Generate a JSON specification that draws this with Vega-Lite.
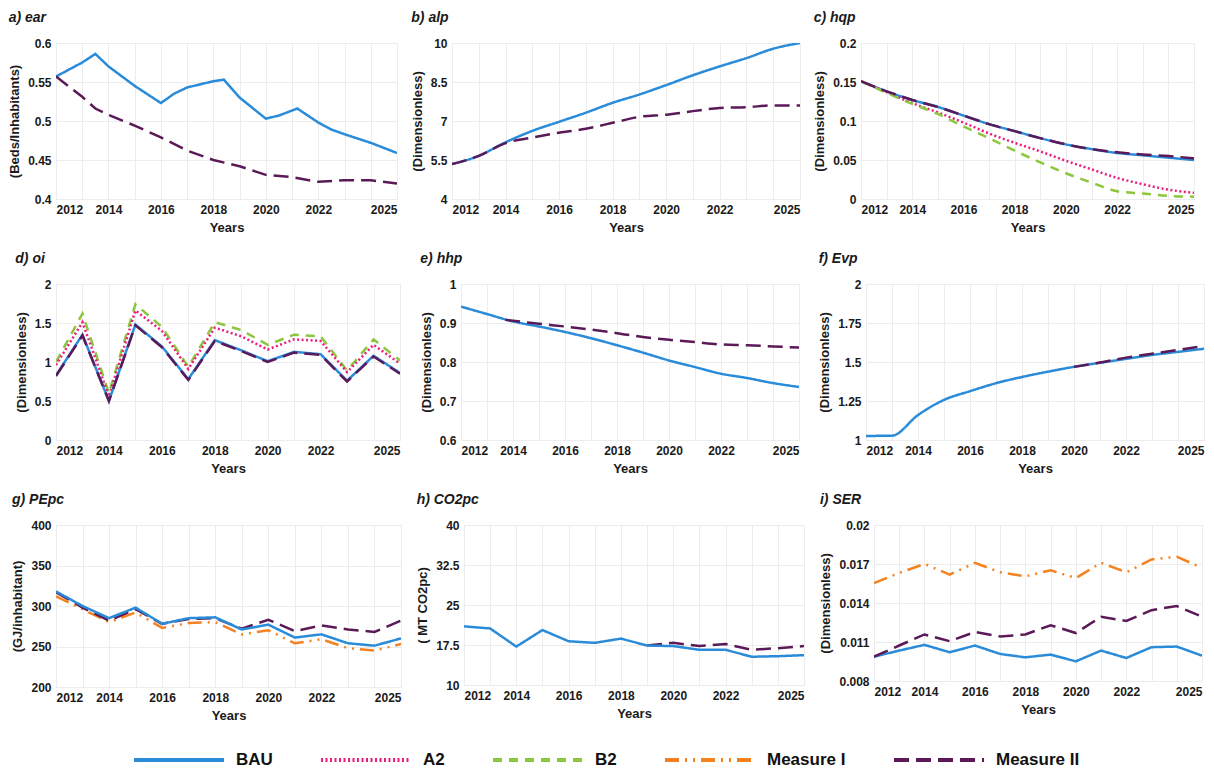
{
  "$schema": "https://vega.github.io/schema/vega-lite/v6.json",
  "padding": {"left": 8, "top": 10, "right": 4, "bottom": 4},
  "background": "white",
  "datasets": {
    "d": [
      {"p":"a","s":"BAU","x":2012,"v":0.557},{"p":"a","s":"BAU","x":2013,"v":0.575},{"p":"a","s":"BAU","x":2013.5,"v":0.586},{"p":"a","s":"BAU","x":2014,"v":0.570},{"p":"a","s":"BAU","x":2015,"v":0.545},{"p":"a","s":"BAU","x":2016,"v":0.523},{"p":"a","s":"BAU","x":2016.5,"v":0.535},{"p":"a","s":"BAU","x":2017,"v":0.543},{"p":"a","s":"BAU","x":2018,"v":0.551},{"p":"a","s":"BAU","x":2018.4,"v":0.553},{"p":"a","s":"BAU","x":2019,"v":0.530},{"p":"a","s":"BAU","x":2020,"v":0.503},{"p":"a","s":"BAU","x":2020.5,"v":0.507},{"p":"a","s":"BAU","x":2021.2,"v":0.516},{"p":"a","s":"BAU","x":2022,"v":0.498},{"p":"a","s":"BAU","x":2022.5,"v":0.489},{"p":"a","s":"BAU","x":2023,"v":0.483},{"p":"a","s":"BAU","x":2024,"v":0.472},{"p":"a","s":"BAU","x":2025,"v":0.459},
      {"p":"a","s":"Measure II","x":2012,"v":0.557},{"p":"a","s":"Measure II","x":2013,"v":0.531},{"p":"a","s":"Measure II","x":2013.5,"v":0.516},{"p":"a","s":"Measure II","x":2014,"v":0.508},{"p":"a","s":"Measure II","x":2015,"v":0.494},{"p":"a","s":"Measure II","x":2016,"v":0.479},{"p":"a","s":"Measure II","x":2017,"v":0.462},{"p":"a","s":"Measure II","x":2018,"v":0.450},{"p":"a","s":"Measure II","x":2019,"v":0.442},{"p":"a","s":"Measure II","x":2020,"v":0.431},{"p":"a","s":"Measure II","x":2021,"v":0.428},{"p":"a","s":"Measure II","x":2022,"v":0.422},{"p":"a","s":"Measure II","x":2023,"v":0.424},{"p":"a","s":"Measure II","x":2024,"v":0.424},{"p":"a","s":"Measure II","x":2025,"v":0.420},

      {"p":"b","s":"BAU","x":2012,"v":5.34},{"p":"b","s":"BAU","x":2013,"v":5.66},{"p":"b","s":"BAU","x":2014,"v":6.18},{"p":"b","s":"BAU","x":2015,"v":6.62},{"p":"b","s":"BAU","x":2016,"v":6.97},{"p":"b","s":"BAU","x":2017,"v":7.32},{"p":"b","s":"BAU","x":2018,"v":7.7},{"p":"b","s":"BAU","x":2019,"v":8.02},{"p":"b","s":"BAU","x":2020,"v":8.38},{"p":"b","s":"BAU","x":2021,"v":8.76},{"p":"b","s":"BAU","x":2022,"v":9.1},{"p":"b","s":"BAU","x":2023,"v":9.42},{"p":"b","s":"BAU","x":2024,"v":9.78},{"p":"b","s":"BAU","x":2025,"v":10.0},
      {"p":"b","s":"Measure II","x":2012,"v":5.34},{"p":"b","s":"Measure II","x":2013,"v":5.66},{"p":"b","s":"Measure II","x":2014,"v":6.15},{"p":"b","s":"Measure II","x":2015,"v":6.36},{"p":"b","s":"Measure II","x":2016,"v":6.55},{"p":"b","s":"Measure II","x":2017,"v":6.7},{"p":"b","s":"Measure II","x":2018,"v":6.93},{"p":"b","s":"Measure II","x":2019,"v":7.16},{"p":"b","s":"Measure II","x":2020,"v":7.24},{"p":"b","s":"Measure II","x":2021,"v":7.38},{"p":"b","s":"Measure II","x":2022,"v":7.5},{"p":"b","s":"Measure II","x":2023,"v":7.53},{"p":"b","s":"Measure II","x":2024,"v":7.6},{"p":"b","s":"Measure II","x":2025,"v":7.6},

      {"p":"c","s":"BAU","x":2012,"v":0.151},{"p":"c","s":"BAU","x":2013,"v":0.138},{"p":"c","s":"BAU","x":2014,"v":0.127},{"p":"c","s":"BAU","x":2015,"v":0.118},{"p":"c","s":"BAU","x":2016,"v":0.107},{"p":"c","s":"BAU","x":2017,"v":0.096},{"p":"c","s":"BAU","x":2018,"v":0.087},{"p":"c","s":"BAU","x":2019,"v":0.078},{"p":"c","s":"BAU","x":2020,"v":0.070},{"p":"c","s":"BAU","x":2021,"v":0.064},{"p":"c","s":"BAU","x":2022,"v":0.059},{"p":"c","s":"BAU","x":2023,"v":0.056},{"p":"c","s":"BAU","x":2024,"v":0.053},{"p":"c","s":"BAU","x":2025,"v":0.050},
      {"p":"c","s":"A2","x":2012,"v":0.151},{"p":"c","s":"A2","x":2013,"v":0.137},{"p":"c","s":"A2","x":2014,"v":0.123},{"p":"c","s":"A2","x":2015,"v":0.111},{"p":"c","s":"A2","x":2016,"v":0.098},{"p":"c","s":"A2","x":2017,"v":0.084},{"p":"c","s":"A2","x":2018,"v":0.072},{"p":"c","s":"A2","x":2019,"v":0.061},{"p":"c","s":"A2","x":2020,"v":0.049},{"p":"c","s":"A2","x":2021,"v":0.038},{"p":"c","s":"A2","x":2022,"v":0.027},{"p":"c","s":"A2","x":2023,"v":0.019},{"p":"c","s":"A2","x":2024,"v":0.012},{"p":"c","s":"A2","x":2025,"v":0.008},
      {"p":"c","s":"B2","x":2012,"v":0.151},{"p":"c","s":"B2","x":2013,"v":0.136},{"p":"c","s":"B2","x":2014,"v":0.122},{"p":"c","s":"B2","x":2015,"v":0.109},{"p":"c","s":"B2","x":2016,"v":0.093},{"p":"c","s":"B2","x":2017,"v":0.078},{"p":"c","s":"B2","x":2018,"v":0.062},{"p":"c","s":"B2","x":2019,"v":0.047},{"p":"c","s":"B2","x":2020,"v":0.033},{"p":"c","s":"B2","x":2021,"v":0.021},{"p":"c","s":"B2","x":2022,"v":0.010},{"p":"c","s":"B2","x":2023,"v":0.007},{"p":"c","s":"B2","x":2024,"v":0.004},{"p":"c","s":"B2","x":2025,"v":0.003},
      {"p":"c","s":"Measure II","x":2012,"v":0.151},{"p":"c","s":"Measure II","x":2013,"v":0.138},{"p":"c","s":"Measure II","x":2014,"v":0.127},{"p":"c","s":"Measure II","x":2015,"v":0.118},{"p":"c","s":"Measure II","x":2016,"v":0.107},{"p":"c","s":"Measure II","x":2017,"v":0.096},{"p":"c","s":"Measure II","x":2018,"v":0.087},{"p":"c","s":"Measure II","x":2019,"v":0.078},{"p":"c","s":"Measure II","x":2020,"v":0.070},{"p":"c","s":"Measure II","x":2021,"v":0.064},{"p":"c","s":"Measure II","x":2022,"v":0.060},{"p":"c","s":"Measure II","x":2023,"v":0.057},{"p":"c","s":"Measure II","x":2024,"v":0.055},{"p":"c","s":"Measure II","x":2025,"v":0.052},

      {"p":"d","s":"B2","x":2012,"v":1.0},{"p":"d","s":"B2","x":2013,"v":1.62},{"p":"d","s":"B2","x":2014,"v":0.6},{"p":"d","s":"B2","x":2015,"v":1.74},{"p":"d","s":"B2","x":2016,"v":1.45},{"p":"d","s":"B2","x":2017,"v":0.94},{"p":"d","s":"B2","x":2018,"v":1.51},{"p":"d","s":"B2","x":2019,"v":1.41},{"p":"d","s":"B2","x":2020,"v":1.22},{"p":"d","s":"B2","x":2021,"v":1.35},{"p":"d","s":"B2","x":2022,"v":1.33},{"p":"d","s":"B2","x":2023,"v":0.89},{"p":"d","s":"B2","x":2024,"v":1.29},{"p":"d","s":"B2","x":2025,"v":1.02},
      {"p":"d","s":"A2","x":2012,"v":0.96},{"p":"d","s":"A2","x":2013,"v":1.51},{"p":"d","s":"A2","x":2014,"v":0.56},{"p":"d","s":"A2","x":2015,"v":1.66},{"p":"d","s":"A2","x":2016,"v":1.4},{"p":"d","s":"A2","x":2017,"v":0.91},{"p":"d","s":"A2","x":2018,"v":1.44},{"p":"d","s":"A2","x":2019,"v":1.33},{"p":"d","s":"A2","x":2020,"v":1.16},{"p":"d","s":"A2","x":2021,"v":1.29},{"p":"d","s":"A2","x":2022,"v":1.27},{"p":"d","s":"A2","x":2023,"v":0.87},{"p":"d","s":"A2","x":2024,"v":1.22},{"p":"d","s":"A2","x":2025,"v":0.98},
      {"p":"d","s":"BAU","x":2012,"v":0.83},{"p":"d","s":"BAU","x":2013,"v":1.35},{"p":"d","s":"BAU","x":2014,"v":0.5},{"p":"d","s":"BAU","x":2015,"v":1.48},{"p":"d","s":"BAU","x":2016,"v":1.2},{"p":"d","s":"BAU","x":2017,"v":0.78},{"p":"d","s":"BAU","x":2018,"v":1.28},{"p":"d","s":"BAU","x":2019,"v":1.15},{"p":"d","s":"BAU","x":2020,"v":1.01},{"p":"d","s":"BAU","x":2021,"v":1.13},{"p":"d","s":"BAU","x":2022,"v":1.1},{"p":"d","s":"BAU","x":2023,"v":0.76},{"p":"d","s":"BAU","x":2024,"v":1.08},{"p":"d","s":"BAU","x":2025,"v":0.86},
      {"p":"d","s":"Measure II","x":2012,"v":0.82},{"p":"d","s":"Measure II","x":2013,"v":1.34},{"p":"d","s":"Measure II","x":2014,"v":0.5},{"p":"d","s":"Measure II","x":2015,"v":1.47},{"p":"d","s":"Measure II","x":2016,"v":1.19},{"p":"d","s":"Measure II","x":2017,"v":0.77},{"p":"d","s":"Measure II","x":2018,"v":1.27},{"p":"d","s":"Measure II","x":2019,"v":1.14},{"p":"d","s":"Measure II","x":2020,"v":1.0},{"p":"d","s":"Measure II","x":2021,"v":1.12},{"p":"d","s":"Measure II","x":2022,"v":1.09},{"p":"d","s":"Measure II","x":2023,"v":0.75},{"p":"d","s":"Measure II","x":2024,"v":1.07},{"p":"d","s":"Measure II","x":2025,"v":0.85},

      {"p":"e","s":"BAU","x":2012,"v":0.942},{"p":"e","s":"BAU","x":2013,"v":0.923},{"p":"e","s":"BAU","x":2014,"v":0.904},{"p":"e","s":"BAU","x":2015,"v":0.891},{"p":"e","s":"BAU","x":2016,"v":0.877},{"p":"e","s":"BAU","x":2017,"v":0.861},{"p":"e","s":"BAU","x":2018,"v":0.843},{"p":"e","s":"BAU","x":2019,"v":0.824},{"p":"e","s":"BAU","x":2020,"v":0.804},{"p":"e","s":"BAU","x":2021,"v":0.787},{"p":"e","s":"BAU","x":2022,"v":0.770},{"p":"e","s":"BAU","x":2023,"v":0.759},{"p":"e","s":"BAU","x":2024,"v":0.746},{"p":"e","s":"BAU","x":2025,"v":0.736},
      {"p":"e","s":"Measure II","x":2013.7,"v":0.908},{"p":"e","s":"Measure II","x":2014,"v":0.906},{"p":"e","s":"Measure II","x":2015,"v":0.898},{"p":"e","s":"Measure II","x":2016,"v":0.891},{"p":"e","s":"Measure II","x":2017,"v":0.883},{"p":"e","s":"Measure II","x":2018,"v":0.874},{"p":"e","s":"Measure II","x":2019,"v":0.864},{"p":"e","s":"Measure II","x":2020,"v":0.857},{"p":"e","s":"Measure II","x":2021,"v":0.851},{"p":"e","s":"Measure II","x":2022,"v":0.845},{"p":"e","s":"Measure II","x":2023,"v":0.843},{"p":"e","s":"Measure II","x":2024,"v":0.840},{"p":"e","s":"Measure II","x":2025,"v":0.837},

      {"p":"f","s":"BAU","x":2012,"v":1.026},{"p":"f","s":"BAU","x":2013,"v":1.028},{"p":"f","s":"BAU","x":2014,"v":1.16},{"p":"f","s":"BAU","x":2015,"v":1.257},{"p":"f","s":"BAU","x":2016,"v":1.313},{"p":"f","s":"BAU","x":2017,"v":1.364},{"p":"f","s":"BAU","x":2018,"v":1.404},{"p":"f","s":"BAU","x":2019,"v":1.438},{"p":"f","s":"BAU","x":2020,"v":1.469},{"p":"f","s":"BAU","x":2021,"v":1.495},{"p":"f","s":"BAU","x":2022,"v":1.52},{"p":"f","s":"BAU","x":2023,"v":1.545},{"p":"f","s":"BAU","x":2024,"v":1.565},{"p":"f","s":"BAU","x":2025,"v":1.585},
      {"p":"f","s":"Measure II","x":2020,"v":1.469},{"p":"f","s":"Measure II","x":2021,"v":1.497},{"p":"f","s":"Measure II","x":2022,"v":1.528},{"p":"f","s":"Measure II","x":2023,"v":1.553},{"p":"f","s":"Measure II","x":2024,"v":1.578},{"p":"f","s":"Measure II","x":2025,"v":1.602},

      {"p":"g","s":"Measure I","x":2012,"v":312},{"p":"g","s":"Measure I","x":2013,"v":296},{"p":"g","s":"Measure I","x":2014,"v":280},{"p":"g","s":"Measure I","x":2015,"v":292},{"p":"g","s":"Measure I","x":2016,"v":273},{"p":"g","s":"Measure I","x":2017,"v":279},{"p":"g","s":"Measure I","x":2018,"v":280},{"p":"g","s":"Measure I","x":2019,"v":265},{"p":"g","s":"Measure I","x":2020,"v":270},{"p":"g","s":"Measure I","x":2021,"v":254},{"p":"g","s":"Measure I","x":2022,"v":259},{"p":"g","s":"Measure I","x":2023,"v":248},{"p":"g","s":"Measure I","x":2024,"v":245},{"p":"g","s":"Measure I","x":2025,"v":253},
      {"p":"g","s":"Measure II","x":2012,"v":317},{"p":"g","s":"Measure II","x":2013,"v":298},{"p":"g","s":"Measure II","x":2014,"v":282},{"p":"g","s":"Measure II","x":2015,"v":296},{"p":"g","s":"Measure II","x":2016,"v":278},{"p":"g","s":"Measure II","x":2017,"v":284},{"p":"g","s":"Measure II","x":2018,"v":285},{"p":"g","s":"Measure II","x":2019,"v":272},{"p":"g","s":"Measure II","x":2020,"v":283},{"p":"g","s":"Measure II","x":2021,"v":269},{"p":"g","s":"Measure II","x":2022,"v":276},{"p":"g","s":"Measure II","x":2023,"v":271},{"p":"g","s":"Measure II","x":2024,"v":268},{"p":"g","s":"Measure II","x":2025,"v":282},
      {"p":"g","s":"BAU","x":2012,"v":318},{"p":"g","s":"BAU","x":2013,"v":300},{"p":"g","s":"BAU","x":2014,"v":285},{"p":"g","s":"BAU","x":2015,"v":298},{"p":"g","s":"BAU","x":2016,"v":278},{"p":"g","s":"BAU","x":2017,"v":285},{"p":"g","s":"BAU","x":2018,"v":286},{"p":"g","s":"BAU","x":2019,"v":271},{"p":"g","s":"BAU","x":2020,"v":277},{"p":"g","s":"BAU","x":2021,"v":261},{"p":"g","s":"BAU","x":2022,"v":265},{"p":"g","s":"BAU","x":2023,"v":254},{"p":"g","s":"BAU","x":2024,"v":251},{"p":"g","s":"BAU","x":2025,"v":260},

      {"p":"h","s":"Measure II","x":2019,"v":17.4},{"p":"h","s":"Measure II","x":2020,"v":17.9},{"p":"h","s":"Measure II","x":2021,"v":17.3},{"p":"h","s":"Measure II","x":2022,"v":17.7},{"p":"h","s":"Measure II","x":2023,"v":16.6},{"p":"h","s":"Measure II","x":2024,"v":16.9},{"p":"h","s":"Measure II","x":2025,"v":17.3},
      {"p":"h","s":"BAU","x":2012,"v":21.0},{"p":"h","s":"BAU","x":2013,"v":20.6},{"p":"h","s":"BAU","x":2014,"v":17.2},{"p":"h","s":"BAU","x":2015,"v":20.3},{"p":"h","s":"BAU","x":2016,"v":18.2},{"p":"h","s":"BAU","x":2017,"v":17.9},{"p":"h","s":"BAU","x":2018,"v":18.7},{"p":"h","s":"BAU","x":2019,"v":17.4},{"p":"h","s":"BAU","x":2020,"v":17.3},{"p":"h","s":"BAU","x":2021,"v":16.6},{"p":"h","s":"BAU","x":2022,"v":16.6},{"p":"h","s":"BAU","x":2023,"v":15.3},{"p":"h","s":"BAU","x":2024,"v":15.4},{"p":"h","s":"BAU","x":2025,"v":15.6},

      {"p":"i","s":"BAU","x":2012,"v":0.00987},{"p":"i","s":"BAU","x":2013,"v":0.01034},{"p":"i","s":"BAU","x":2014,"v":0.01078},{"p":"i","s":"BAU","x":2015,"v":0.01021},{"p":"i","s":"BAU","x":2016,"v":0.01073},{"p":"i","s":"BAU","x":2017,"v":0.01008},{"p":"i","s":"BAU","x":2018,"v":0.00982},{"p":"i","s":"BAU","x":2019,"v":0.01003},{"p":"i","s":"BAU","x":2020,"v":0.00951},{"p":"i","s":"BAU","x":2021,"v":0.01034},{"p":"i","s":"BAU","x":2022,"v":0.00977},{"p":"i","s":"BAU","x":2023,"v":0.0106},{"p":"i","s":"BAU","x":2024,"v":0.01065},{"p":"i","s":"BAU","x":2025,"v":0.00995},
      {"p":"i","s":"Measure II","x":2012,"v":0.00987},{"p":"i","s":"Measure II","x":2013,"v":0.01073},{"p":"i","s":"Measure II","x":2014,"v":0.01158},{"p":"i","s":"Measure II","x":2015,"v":0.01106},{"p":"i","s":"Measure II","x":2016,"v":0.01177},{"p":"i","s":"Measure II","x":2017,"v":0.01143},{"p":"i","s":"Measure II","x":2018,"v":0.01158},{"p":"i","s":"Measure II","x":2019,"v":0.01229},{"p":"i","s":"Measure II","x":2020,"v":0.01169},{"p":"i","s":"Measure II","x":2021,"v":0.01294},{"p":"i","s":"Measure II","x":2022,"v":0.01262},{"p":"i","s":"Measure II","x":2023,"v":0.01345},{"p":"i","s":"Measure II","x":2024,"v":0.01377},{"p":"i","s":"Measure II","x":2025,"v":0.01294},
      {"p":"i","s":"Measure I","x":2012,"v":0.01553},{"p":"i","s":"Measure I","x":2013,"v":0.01631},{"p":"i","s":"Measure I","x":2014,"v":0.01701},{"p":"i","s":"Measure I","x":2015,"v":0.01618},{"p":"i","s":"Measure I","x":2016,"v":0.01709},{"p":"i","s":"Measure I","x":2017,"v":0.01636},{"p":"i","s":"Measure I","x":2018,"v":0.01605},{"p":"i","s":"Measure I","x":2019,"v":0.01652},{"p":"i","s":"Measure I","x":2020,"v":0.01592},{"p":"i","s":"Measure I","x":2021,"v":0.01709},{"p":"i","s":"Measure I","x":2022,"v":0.01636},{"p":"i","s":"Measure I","x":2023,"v":0.01735},{"p":"i","s":"Measure I","x":2024,"v":0.01756},{"p":"i","s":"Measure I","x":2025,"v":0.0167}
    ]
  },
  "data": {"name": "d"},
  "spacing": 16,
  "vconcat": [
    {"spacing": 12, "hconcat": [
      {"title": "a) ear", "width": 341, "height": 156, "transform": [{"filter": "datum.p == 'a'"}],
       "mark": {"type": "line", "strokeWidth": 2.5, "clip": true},
       "encoding": {
         "x": {"field": "x", "type": "quantitative", "scale": {"domain": [2012, 2025], "nice": false, "zero": false}, "axis": {"title": "Years", "values": [2012,2013,2014,2015,2016,2017,2018,2019,2020,2021,2022,2023,2024,2025], "format": "d", "labelExpr": "(datum.value % 2 == 0 && datum.value != 2024) || datum.value == 2025 ? datum.label : ''"}},
         "y": {"field": "v", "type": "quantitative", "scale": {"domain": [0.4, 0.6], "nice": false, "zero": false}, "axis": {"title": "(Beds/Inhabitants)", "values": [0.4, 0.45, 0.5, 0.55, 0.6], "labelExpr": "'' + datum.value"}},
         "color": {"field": "s", "type": "nominal", "scale": {"domain": ["BAU","A2","B2","Measure I","Measure II"], "range": ["#2a8bd9","#ec1c7c","#8cc63e","#f58220","#5b1a57"]}},
         "strokeDash": {"field": "s", "type": "nominal", "scale": {"domain": ["BAU","A2","B2","Measure I","Measure II"], "range": [[1,0],[2,2.5],[9,7],[14,6,2,6,2,6],[15,7]]}}
       }},
      {"title": "b) alp", "width": 348, "height": 156, "transform": [{"filter": "datum.p == 'b'"}],
       "mark": {"type": "line", "strokeWidth": 2.5, "interpolate": "monotone", "clip": true},
       "encoding": {
         "x": {"field": "x", "type": "quantitative", "scale": {"domain": [2012, 2025], "nice": false, "zero": false}, "axis": {"title": "Years", "values": [2012,2013,2014,2015,2016,2017,2018,2019,2020,2021,2022,2023,2024,2025], "format": "d", "labelExpr": "(datum.value % 2 == 0 && datum.value != 2024) || datum.value == 2025 ? datum.label : ''"}},
         "y": {"field": "v", "type": "quantitative", "scale": {"domain": [4, 10], "nice": false, "zero": false}, "axis": {"title": "(Dimensionless)", "values": [4, 5.5, 7, 8.5, 10], "labelExpr": "'' + datum.value"}},
         "color": {"field": "s", "type": "nominal", "scale": {"domain": ["BAU","A2","B2","Measure I","Measure II"], "range": ["#2a8bd9","#ec1c7c","#8cc63e","#f58220","#5b1a57"]}},
         "strokeDash": {"field": "s", "type": "nominal", "scale": {"domain": ["BAU","A2","B2","Measure I","Measure II"], "range": [[1,0],[2,2.5],[9,7],[14,6,2,6,2,6],[15,7]]}}
       }},
      {"title": "c) hqp", "width": 333, "height": 156, "transform": [{"filter": "datum.p == 'c'"}],
       "mark": {"type": "line", "strokeWidth": 2.5, "interpolate": "monotone", "clip": true},
       "encoding": {
         "x": {"field": "x", "type": "quantitative", "scale": {"domain": [2012, 2025], "nice": false, "zero": false}, "axis": {"title": "Years", "values": [2012,2013,2014,2015,2016,2017,2018,2019,2020,2021,2022,2023,2024,2025], "format": "d", "labelExpr": "(datum.value % 2 == 0 && datum.value != 2024) || datum.value == 2025 ? datum.label : ''"}},
         "y": {"field": "v", "type": "quantitative", "scale": {"domain": [0, 0.2], "nice": false, "zero": false}, "axis": {"title": "(Dimensionless)", "values": [0, 0.05, 0.1, 0.15, 0.2], "labelExpr": "'' + datum.value"}},
         "color": {"field": "s", "type": "nominal", "scale": {"domain": ["BAU","A2","B2","Measure I","Measure II"], "range": ["#2a8bd9","#ec1c7c","#8cc63e","#f58220","#5b1a57"]}},
         "strokeDash": {"field": "s", "type": "nominal", "scale": {"domain": ["BAU","A2","B2","Measure I","Measure II"], "range": [[1,0],[2,2.5],[9,7],[14,6,2,6,2,6],[15,7]]}}
       }}
    ]},
    {"spacing": 18, "hconcat": [
      {"title": "d) oi", "width": 344, "height": 156, "transform": [{"filter": "datum.p == 'd'"}],
       "mark": {"type": "line", "strokeWidth": 2.5, "clip": true},
       "encoding": {
         "x": {"field": "x", "type": "quantitative", "scale": {"domain": [2012, 2025], "nice": false, "zero": false}, "axis": {"title": "Years", "values": [2012,2013,2014,2015,2016,2017,2018,2019,2020,2021,2022,2023,2024,2025], "format": "d", "labelExpr": "(datum.value % 2 == 0 && datum.value != 2024) || datum.value == 2025 ? datum.label : ''"}},
         "y": {"field": "v", "type": "quantitative", "scale": {"domain": [0, 2], "nice": false, "zero": false}, "axis": {"title": "(Dimensionless)", "values": [0, 0.5, 1, 1.5, 2], "labelExpr": "'' + datum.value"}},
         "color": {"field": "s", "type": "nominal", "scale": {"domain": ["BAU","A2","B2","Measure I","Measure II"], "range": ["#2a8bd9","#ec1c7c","#8cc63e","#f58220","#5b1a57"]}},
         "strokeDash": {"field": "s", "type": "nominal", "scale": {"domain": ["BAU","A2","B2","Measure I","Measure II"], "range": [[1,0],[2,2.5],[9,7],[14,6,2,6,2,6],[15,7]]}}
       }},
      {"title": "e) hhp", "width": 338, "height": 156, "transform": [{"filter": "datum.p == 'e'"}],
       "mark": {"type": "line", "strokeWidth": 2.5, "interpolate": "monotone", "clip": true},
       "encoding": {
         "x": {"field": "x", "type": "quantitative", "scale": {"domain": [2012, 2025], "nice": false, "zero": false}, "axis": {"title": "Years", "values": [2012,2013,2014,2015,2016,2017,2018,2019,2020,2021,2022,2023,2024,2025], "format": "d", "labelExpr": "(datum.value % 2 == 0 && datum.value != 2024) || datum.value == 2025 ? datum.label : ''"}},
         "y": {"field": "v", "type": "quantitative", "scale": {"domain": [0.6, 1], "nice": false, "zero": false}, "axis": {"title": "(Dimensionless)", "values": [0.6, 0.7, 0.8, 0.9, 1], "labelExpr": "'' + datum.value"}},
         "color": {"field": "s", "type": "nominal", "scale": {"domain": ["BAU","A2","B2","Measure I","Measure II"], "range": ["#2a8bd9","#ec1c7c","#8cc63e","#f58220","#5b1a57"]}},
         "strokeDash": {"field": "s", "type": "nominal", "scale": {"domain": ["BAU","A2","B2","Measure I","Measure II"], "range": [[1,0],[2,2.5],[9,7],[14,6,2,6,2,6],[15,7]]}}
       }},
      {"title": "f) Evp", "width": 338, "height": 156, "transform": [{"filter": "datum.p == 'f'"}],
       "mark": {"type": "line", "strokeWidth": 2.5, "interpolate": "monotone", "clip": true},
       "encoding": {
         "x": {"field": "x", "type": "quantitative", "scale": {"domain": [2012, 2025], "nice": false, "zero": false}, "axis": {"title": "Years", "values": [2012,2013,2014,2015,2016,2017,2018,2019,2020,2021,2022,2023,2024,2025], "format": "d", "labelExpr": "(datum.value % 2 == 0 && datum.value != 2024) || datum.value == 2025 ? datum.label : ''"}},
         "y": {"field": "v", "type": "quantitative", "scale": {"domain": [1, 2], "nice": false, "zero": false}, "axis": {"title": "(Dimensionless)", "values": [1, 1.25, 1.5, 1.75, 2], "labelExpr": "'' + datum.value"}},
         "color": {"field": "s", "type": "nominal", "scale": {"domain": ["BAU","A2","B2","Measure I","Measure II"], "range": ["#2a8bd9","#ec1c7c","#8cc63e","#f58220","#5b1a57"]}},
         "strokeDash": {"field": "s", "type": "nominal", "scale": {"domain": ["BAU","A2","B2","Measure I","Measure II"], "range": [[1,0],[2,2.5],[9,7],[14,6,2,6,2,6],[15,7]]}}
       }}
    ]},
    {"spacing": 14, "hconcat": [
      {"title": "g) PEpc", "width": 345, "height": 162, "transform": [{"filter": "datum.p == 'g'"}],
       "mark": {"type": "line", "strokeWidth": 2.5, "clip": true},
       "encoding": {
         "x": {"field": "x", "type": "quantitative", "scale": {"domain": [2012, 2025], "nice": false, "zero": false}, "axis": {"title": "Years", "values": [2012,2013,2014,2015,2016,2017,2018,2019,2020,2021,2022,2023,2024,2025], "format": "d", "labelExpr": "(datum.value % 2 == 0 && datum.value != 2024) || datum.value == 2025 ? datum.label : ''"}},
         "y": {"field": "v", "type": "quantitative", "scale": {"domain": [200, 400], "nice": false, "zero": false}, "axis": {"title": "(GJ/inhabitant)", "values": [200, 250, 300, 350, 400], "labelExpr": "'' + datum.value"}},
         "color": {"field": "s", "type": "nominal", "scale": {"domain": ["BAU","A2","B2","Measure I","Measure II"], "range": ["#2a8bd9","#ec1c7c","#8cc63e","#f58220","#5b1a57"]}},
         "strokeDash": {"field": "s", "type": "nominal", "scale": {"domain": ["BAU","A2","B2","Measure I","Measure II"], "range": [[1,0],[2,2.5],[9,7],[14,6,2,6,2,6],[15,7]]}}
       }},
      {"title": "h) CO2pc", "width": 340, "height": 160, "transform": [{"filter": "datum.p == 'h'"}],
       "mark": {"type": "line", "strokeWidth": 2.5, "clip": true},
       "encoding": {
         "x": {"field": "x", "type": "quantitative", "scale": {"domain": [2012, 2025], "nice": false, "zero": false}, "axis": {"title": "Years", "values": [2012,2013,2014,2015,2016,2017,2018,2019,2020,2021,2022,2023,2024,2025], "format": "d", "labelExpr": "(datum.value % 2 == 0 && datum.value != 2024) || datum.value == 2025 ? datum.label : ''"}},
         "y": {"field": "v", "type": "quantitative", "scale": {"domain": [10, 40], "nice": false, "zero": false}, "axis": {"title": "( MT CO2pc)", "values": [10, 17.5, 25, 32.5, 40], "labelExpr": "'' + datum.value"}},
         "color": {"field": "s", "type": "nominal", "scale": {"domain": ["BAU","A2","B2","Measure I","Measure II"], "range": ["#2a8bd9","#ec1c7c","#8cc63e","#f58220","#5b1a57"]}},
         "strokeDash": {"field": "s", "type": "nominal", "scale": {"domain": ["BAU","A2","B2","Measure I","Measure II"], "range": [[1,0],[2,2.5],[9,7],[14,6,2,6,2,6],[15,7]]}}
       }},
      {"title": "i) SER", "width": 328, "height": 156, "transform": [{"filter": "datum.p == 'i'"}],
       "mark": {"type": "line", "strokeWidth": 2.5, "clip": true},
       "encoding": {
         "x": {"field": "x", "type": "quantitative", "scale": {"domain": [2012, 2025], "nice": false, "zero": false}, "axis": {"title": "Years", "values": [2012,2013,2014,2015,2016,2017,2018,2019,2020,2021,2022,2023,2024,2025], "format": "d", "labelExpr": "(datum.value % 2 == 0 && datum.value != 2024) || datum.value == 2025 ? datum.label : ''"}},
         "y": {"field": "v", "type": "quantitative", "scale": {"domain": [0.008, 0.02], "nice": false, "zero": false}, "axis": {"title": "(Dimensionless)", "values": [0.008, 0.011, 0.014, 0.017, 0.02], "labelExpr": "'' + datum.value"}},
         "color": {"field": "s", "type": "nominal", "scale": {"domain": ["BAU","A2","B2","Measure I","Measure II"], "range": ["#2a8bd9","#ec1c7c","#8cc63e","#f58220","#5b1a57"]}},
         "strokeDash": {"field": "s", "type": "nominal", "scale": {"domain": ["BAU","A2","B2","Measure I","Measure II"], "range": [[1,0],[2,2.5],[9,7],[14,6,2,6,2,6],[15,7]]}}
       }}
    ]}
  ],
  "config": {
    "font": "Liberation Sans",
    "view": {"stroke": "#dcdcdc", "strokeWidth": 1},
    "axis": {"labelFont": "Liberation Sans", "labelFontWeight": "bold", "labelFontSize": 12, "labelColor": "#1a1a1a", "titleFont": "Liberation Sans", "titleFontWeight": "bold", "titleFontSize": 13, "titleColor": "#1a1a1a", "domain": false, "ticks": false, "gridColor": "#ececec", "gridWidth": 1, "labelPadding": 5, "titlePadding": 6},
    "axisX": {"labelFlush": true},
    "title": {"anchor": "start", "font": "Liberation Sans", "fontSize": 14, "fontWeight": "bold", "fontStyle": "italic", "color": "#1a1a1a", "offset": 12},
    "legend": {"orient": "bottom", "direction": "horizontal", "title": null, "symbolType": "stroke", "symbolSize": 8100, "symbolStrokeWidth": 4, "labelFont": "Liberation Sans", "labelFontSize": 17, "labelFontWeight": "bold", "labelColor": "#111", "columnPadding": 40, "labelOffset": 10, "labelLimit": 300, "offset": -10, "layout": {"bottom": {"anchor": "middle"}}}
  }
}
